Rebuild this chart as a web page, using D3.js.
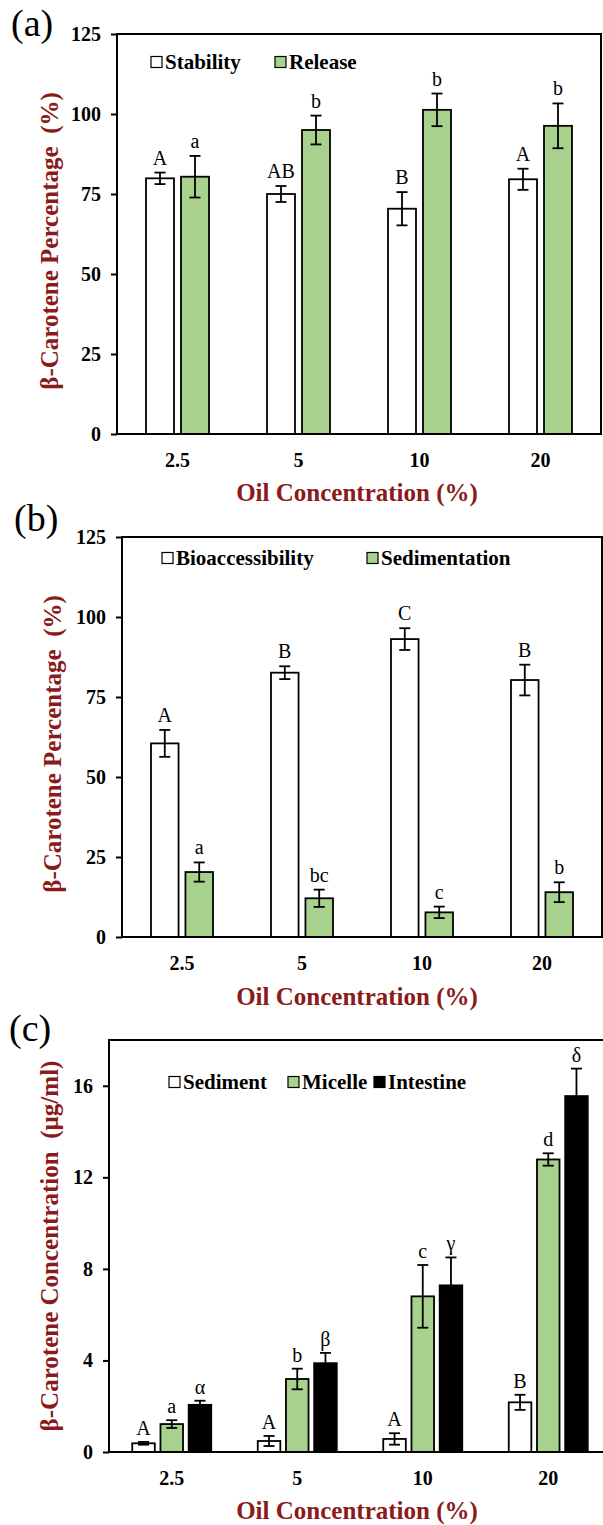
<!DOCTYPE html>
<html>
<head>
<meta charset="utf-8">
<script src="https://cdn.jsdelivr.net/npm/d3@7"></script>
<style>
  body { margin: 0; background: #fff; }
  svg { display: block; }
</style>
</head>
<body>
<svg id="fig" width="603" height="1525"></svg>
<script>
// Oil concentration levels (%) shared by all three panels
const oilLevels = ["2.5", "5", "10", "20"];

// Panel (a): stability and release of β-carotene (%)
const stabilityMean = [79.9, 75.0, 70.4, 79.6];
const stabilityErr = [1.8, 2.5, 5.2, 3.3];
const stabilityGroup = ["A", "AB", "B", "A"];
const releaseMean = [80.4, 95.0, 101.3, 96.3];
const releaseErr = [6.5, 4.5, 5.1, 7.0];
const releaseGroup = ["a", "b", "b", "b"];

// Panel (b): bioaccessibility and sedimentation (%)
const bioMean = [60.5, 82.6, 93.1, 80.3];
const bioErr = [4.2, 2.0, 3.4, 4.8];
const bioGroup = ["A", "B", "C", "B"];
const sedMean = [20.3, 12.1, 7.7, 14.0];
const sedErr = [3.0, 2.7, 1.8, 3.1];
const sedGroup = ["a", "bc", "c", "b"];

// Panel (c): β-carotene concentration (µg/ml) per fraction
const sedimentMean = [0.38, 0.48, 0.57, 2.17];
const sedimentErr = [0.06, 0.22, 0.25, 0.33];
const sedimentGroup = ["A", "A", "A", "B"];
const micelleMean = [1.22, 3.19, 6.80, 12.78];
const micelleErr = [0.17, 0.45, 1.37, 0.27];
const micelleGroup = ["a", "b", "c", "d"];
const intestineMean = [2.06, 3.88, 7.28, 15.55];
const intestineErr = [0.18, 0.45, 1.22, 1.20];
const intestineGroup = ["α", "β", "γ", "δ"];

// Axis tick values
const percentTicks = [0, 25, 50, 75, 100, 125];
const concTicks = [0, 4, 8, 12, 16];

const GREEN = "#a9d18e";
const TITLE_RED = "#8b1a1a";
const SERIF = "'Liberation Serif', 'Times New Roman', serif";

const svg = d3.select("#fig");

function drawPanel(cfg) {
  const g = svg.append("g");

  const x = d3.scaleBand().domain(oilLevels).range([cfg.left, cfg.right]);
  const y = d3.scaleLinear().domain([0, cfg.yMax]).range([cfg.bottom, cfg.top]);
  const inner = d3.scaleBand()
    .domain(cfg.series.map(s => s.name))
    .range([-cfg.groupW / 2, cfg.groupW / 2])
    .paddingInner(cfg.pad);
  const bw = inner.bandwidth();

  // bars, error bars and significance letters for every series
  cfg.series.forEach(s => {
    const rows = oilLevels.map((lvl, i) => ({
      lvl, m: s.mean[i], e: s.err[i], lab: s.group[i],
      cx: x(lvl) + x.bandwidth() / 2 + inner(s.name) + bw / 2
    }));
    const sg = g.append("g");
    sg.selectAll("rect").data(rows).join("rect")
      .attr("x", d => d.cx - bw / 2)
      .attr("y", d => y(d.m))
      .attr("width", bw)
      .attr("height", d => y(0) - y(d.m))
      .attr("fill", s.fill)
      .attr("stroke", "#000")
      .attr("stroke-width", 1.8);

    const eb = sg.selectAll("g.err").data(rows).join("g").attr("class", "err")
      .attr("stroke", "#000").attr("stroke-width", 1.8);
    eb.append("line")
      .attr("x1", d => d.cx).attr("x2", d => d.cx)
      .attr("y1", d => y(d.m + d.e)).attr("y2", d => y(d.m - d.e));
    eb.append("line")
      .attr("x1", d => d.cx - cfg.cap).attr("x2", d => d.cx + cfg.cap)
      .attr("y1", d => y(d.m + d.e)).attr("y2", d => y(d.m + d.e));
    eb.append("line")
      .attr("x1", d => d.cx - cfg.cap).attr("x2", d => d.cx + cfg.cap)
      .attr("y1", d => y(d.m - d.e)).attr("y2", d => y(d.m - d.e));

    sg.selectAll("text").data(rows).join("text")
      .attr("x", d => d.cx)
      .attr("y", d => y(d.m + d.e) - cfg.labGap)
      .attr("text-anchor", "middle")
      .attr("font-family", SERIF)
      .attr("font-size", 20)
      .attr("fill", "#000")
      .text(d => d.lab);
  });

  // plot frame
  g.append("rect")
    .attr("x", cfg.left).attr("y", cfg.top)
    .attr("width", cfg.right - cfg.left).attr("height", cfg.bottom - cfg.top)
    .attr("fill", "none").attr("stroke", "#000").attr("stroke-width", 2);

  // y axis
  const ya = g.append("g")
    .attr("transform", `translate(${cfg.left},0)`)
    .call(d3.axisLeft(y).tickValues(cfg.ticks).tickSize(6).tickPadding(10).tickFormat(d3.format("d")));
  ya.select(".domain").remove();
  ya.selectAll("line").attr("stroke", "#000").attr("stroke-width", 2);
  ya.selectAll("text")
    .attr("font-family", SERIF).attr("font-weight", "bold")
    .attr("font-size", 20).attr("fill", "#000");

  // x axis category labels
  const xa = g.append("g")
    .attr("transform", `translate(0,${cfg.bottom})`)
    .call(d3.axisBottom(x).tickSize(0).tickPadding(19));
  xa.select(".domain").remove();
  xa.selectAll("text")
    .attr("font-family", SERIF).attr("font-weight", "bold")
    .attr("font-size", 20).attr("fill", "#000");

  // legend
  cfg.series.forEach((s, i) => {
    const lx = cfg.legendX[i];
    g.append("rect")
      .attr("x", lx).attr("y", cfg.legendY - 5.5)
      .attr("width", 11).attr("height", 11)
      .attr("fill", s.fill).attr("stroke", "#000").attr("stroke-width", 1.2);
    g.append("text")
      .attr("x", lx + 14).attr("y", cfg.legendY + 7)
      .attr("font-family", SERIF).attr("font-weight", "bold")
      .attr("font-size", 21).attr("fill", "#000")
      .text(s.name);
  });

  // axis titles
  g.append("text")
    .attr("transform", `translate(${cfg.yTitleX},${cfg.yTitleY}) rotate(-90)`)
    .attr("text-anchor", "middle")
    .attr("font-family", SERIF).attr("font-weight", "bold")
    .attr("font-size", 25).attr("fill", TITLE_RED)
    .text(cfg.yTitle);
  g.append("text")
    .attr("x", cfg.xTitleX).attr("y", cfg.xTitleY)
    .attr("text-anchor", "middle")
    .attr("font-family", SERIF).attr("font-weight", "bold")
    .attr("font-size", 25).attr("fill", TITLE_RED)
    .text("Oil Concentration (%)");

  // panel tag
  g.append("text")
    .attr("x", cfg.tagX).attr("y", cfg.tagY)
    .attr("font-family", SERIF).attr("font-size", 38).attr("fill", "#000")
    .text(cfg.tag);
}

drawPanel({
  tag: "(a)", tagX: 11, tagY: 36,
  left: 117, right: 601, top: 34, bottom: 434,
  yMax: 125, ticks: percentTicks,
  groupW: 63, pad: 0.2, cap: 5.5, labGap: 8,
  series: [
    { name: "Stability", mean: stabilityMean, err: stabilityErr, group: stabilityGroup, fill: "#fff" },
    { name: "Release", mean: releaseMean, err: releaseErr, group: releaseGroup, fill: GREEN }
  ],
  legendX: [151, 275], legendY: 62,
  yTitle: "β-Carotene Percentage\u00A0 (%)", yTitleX: 58, yTitleY: 241,
  xTitleX: 357, xTitleY: 501
});

drawPanel({
  tag: "(b)", tagX: 14, tagY: 531,
  left: 122, right: 602, top: 537, bottom: 937,
  yMax: 125, ticks: percentTicks,
  groupW: 62, pad: 0.2, cap: 5.5, labGap: 8,
  series: [
    { name: "Bioaccessibility", mean: bioMean, err: bioErr, group: bioGroup, fill: "#fff" },
    { name: "Sedimentation", mean: sedMean, err: sedErr, group: sedGroup, fill: GREEN }
  ],
  legendX: [162, 367], legendY: 558,
  yTitle: "β-Carotene Percentage\u00A0 (%)", yTitleX: 61, yTitleY: 744,
  xTitleX: 357, xTitleY: 1005
});

drawPanel({
  tag: "(c)", tagX: 9, tagY: 1041,
  left: 109, right: 611, top: 1040, bottom: 1452,
  yMax: 18, ticks: concTicks,
  groupW: 79, pad: 0.2, cap: 5.5, labGap: 7,
  series: [
    { name: "Sediment", mean: sedimentMean, err: sedimentErr, group: sedimentGroup, fill: "#fff" },
    { name: "Micelle", mean: micelleMean, err: micelleErr, group: micelleGroup, fill: GREEN },
    { name: "Intestine", mean: intestineMean, err: intestineErr, group: intestineGroup, fill: "#000" }
  ],
  legendX: [169, 288, 374], legendY: 1082,
  yTitle: "β-Carotene Concentration\u00A0 (µg/ml)", yTitleX: 58, yTitleY: 1246,
  xTitleX: 357, xTitleY: 1519
});
</script>
</body>
</html>
